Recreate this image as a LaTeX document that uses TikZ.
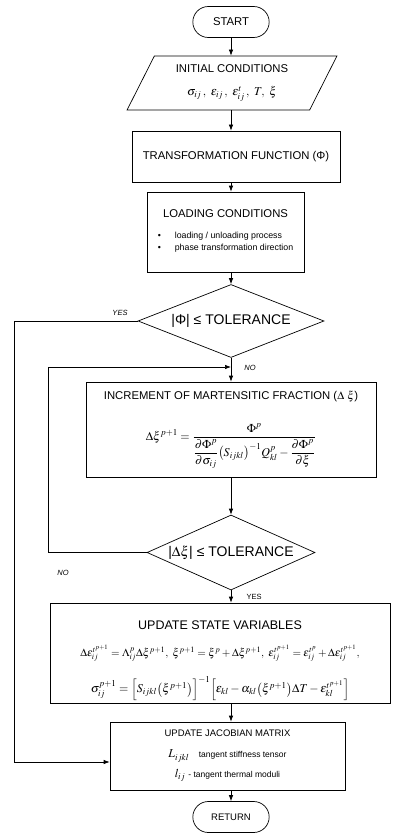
\documentclass[tikz,border=0pt]{standalone}
\usepackage{amsmath}
\usepackage{mathptmx}
\usepackage[no-math]{fontspec}
\setmainfont{Liberation Sans}
\usetikzlibrary{arrows.meta,shapes.geometric,shapes.misc}

\newcommand{\eqsize}{\fontsize{12}{14}\selectfont}
\begin{document}
\begin{tikzpicture}[x=1pt,y=-1pt,font=\fontsize{11.3}{13}\selectfont,
  line width=0.7pt,
  box/.style={draw,rectangle,align=center,inner sep=2pt},
  term/.style={draw,rounded rectangle,minimum width=83pt,minimum height=31pt},
  io/.style={draw,trapezium,trapezium left angle=64,trapezium right angle=116,
    trapezium stretches=true,align=center},
  decision/.style={draw,diamond,aspect=2.6,inner sep=0pt,font=\fontsize{14}{16}\selectfont},
  flow/.style={-{Latex[length=6pt,width=4.5pt]}},
  tag/.style={font=\fontsize{7.5}{9}\selectfont}]
 \useasboundingbox (0,0) rectangle (404,837);
 \node[term] (start) at (231,22) {START};
 \node[io,minimum width=210pt,minimum height=54pt] (init) at (232,83)
   {INITIAL CONDITIONS\\[10pt]
    {\eqsize$\sigma_{ij}\,,\ \varepsilon_{ij}\,,\ \varepsilon^{t}_{ij}\,,\ T,\ \xi$}};
 \node[box,minimum width=208pt,minimum height=51pt] (trans) at (236,156.5)
   {TRANSFORMATION FUNCTION (Φ)};
 \node[box,minimum width=157pt,minimum height=80pt] (load) at (225.5,232)
   {LOADING CONDITIONS\\[11pt]
    {\fontsize{8.8}{12.5}\selectfont\begin{tabular}{@{}l@{\hspace{14pt}}l@{}}
      \textbullet & loading / unloading process\\
      \textbullet & phase transformation direction
    \end{tabular}}};
 \node[decision,minimum width=186pt,minimum height=73pt] (dia1) at (231,321)
   {|Φ| ≤ TOLERANCE};
 \node[box,minimum width=290pt,minimum height=95pt] (inc) at (231,429.5)
   {INCREMENT OF MARTENSITIC FRACTION ($\Delta\ \xi$)\\[21pt]
    {\eqsize$\displaystyle\Delta\xi^{p+1}=\frac{\Phi^{p}}
      {\dfrac{\partial\Phi^{p}}{\partial\sigma_{ij}}\bigl(S_{ijkl}\bigr)^{-1}Q^{p}_{kl}
      -\dfrac{\partial\Phi^{p}}{\partial\xi}}$}};
 \node[decision,minimum width=168pt,minimum height=75pt] (dia2) at (231,552.5)
   {|$\Delta\xi$| ≤ TOLERANCE};
 \node[box,minimum width=340pt,minimum height=100pt] (state) at (220,653)
   {\rule{0pt}{24pt}{\fontsize{12.5}{14}\selectfont UPDATE STATE VARIABLES}\\[14pt]
    {\fontsize{11}{14}\selectfont$\Delta\varepsilon^{t^{p+1}}_{ij}=\Lambda^{p}_{ij}\Delta\xi^{p+1},\
     \xi^{p+1}=\xi^{p}+\Delta\xi^{p+1},\
     \varepsilon^{t^{p+1}}_{ij}=\varepsilon^{t^{p}}_{ij}+\Delta\varepsilon^{t^{p+1}}_{ij},$}\\[14pt]
    {\eqsize$\sigma^{p+1}_{ij}=\Bigl[S_{ijkl}\bigl(\xi^{p+1}\bigr)\Bigr]^{-1}
     \Bigl[\varepsilon_{kl}-\alpha_{kl}\bigl(\xi^{p+1}\bigr)\Delta T-\varepsilon^{t^{p+1}}_{kl}\Bigr]$}};
 \node[box,minimum width=235pt,minimum height=68pt] (jac) at (227.5,756)
   {{\fontsize{9.5}{11}\selectfont UPDATE JACOBIAN MATRIX}\\[8pt]
    {\eqsize$L_{ijkl}$}\ \ \ {\fontsize{8.5}{9}\selectfont tangent stiffness tensor}\hspace{20pt}\\[7pt]
    {\eqsize$l_{ij}$}\ {\fontsize{8.5}{9}\selectfont - tangent thermal moduli}\hspace{20pt}};
 \node[term,font=\fontsize{9.5}{11}\selectfont] (ret) at (231,817) {RETURN};
 \coordinate (back) at (231,367);
 \draw[flow] (start.south) -- (start.south |- init.north);
 \draw[flow] (init.south -| start) -- (trans.north -| start);
 \draw[flow] (trans.south -| start) -- (load.north -| start);
 \draw[flow] (load.south -| start) -- (dia1.north);
 \draw[flow] (dia1.south) -- (inc.north -| start);
 \draw[flow] (inc.south -| start) -- (dia2.north);
 \draw[flow] (dia2.south) -- (state.north -| start);
 \draw[flow] (state.south -| start) -- (jac.north -| start);
 \draw[flow] (jac.south -| start) -- (ret.north);
 \draw[flow] (dia1.west) -- ++(-123,0) |- ([yshift=-6pt]jac.west);
 \draw[flow] (dia2.west) -- ++(-98,0) |- (back);
 \node[tag,font=\fontsize{7.5}{9}\itshape] (yes1) at (120,313) {YES};
 \node[tag,font=\fontsize{7.5}{9}\itshape] (no1) at (250,368) {NO};
 \node[tag,font=\fontsize{7.5}{9}\itshape] (no2) at (63,573) {NO};
 \node[tag] (yes2) at (254,597) {YES};
\end{tikzpicture}
\end{document}
